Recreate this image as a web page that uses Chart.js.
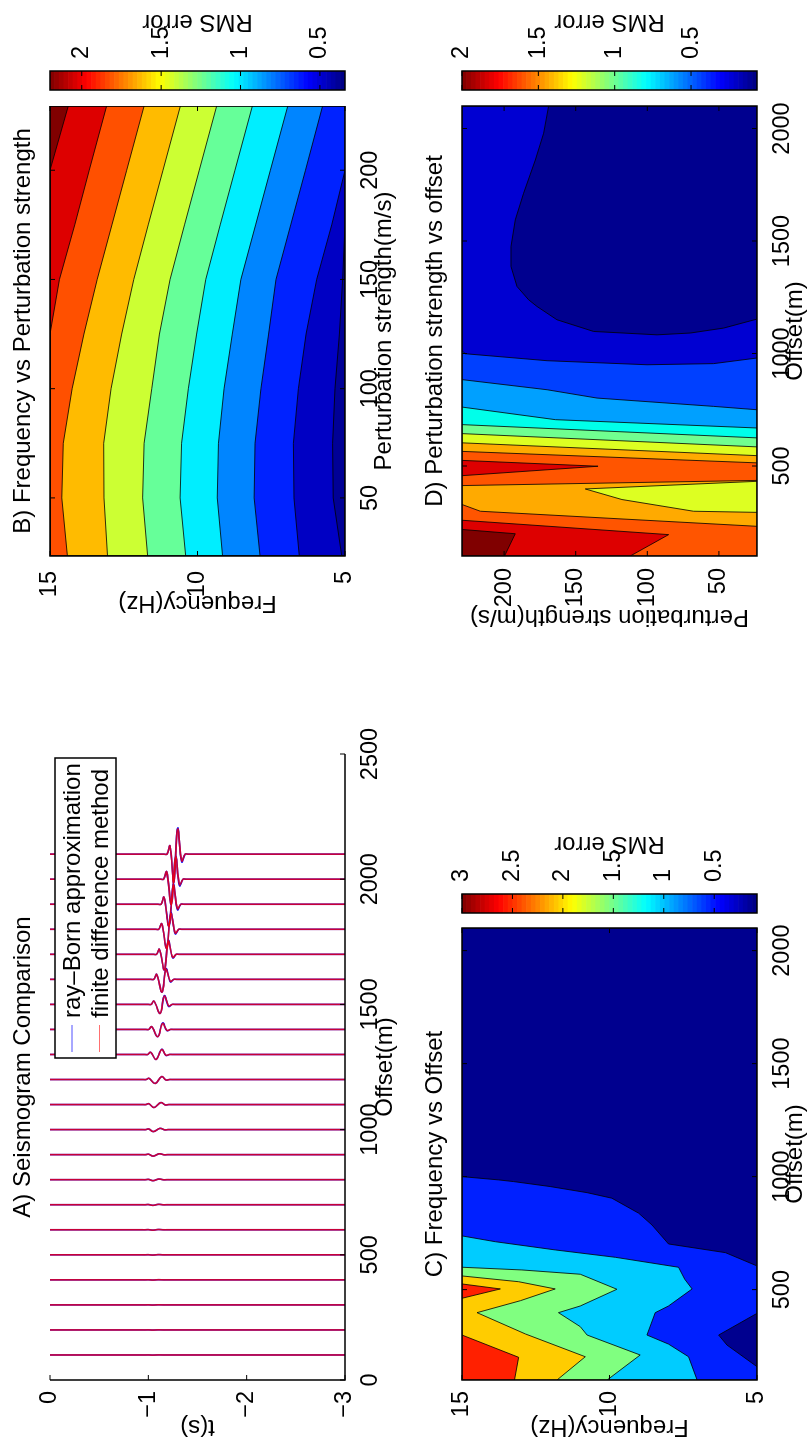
<!DOCTYPE html>
<html>
<head>
<meta charset="utf-8">
<script src="https://cdn.jsdelivr.net/npm/chart.js@4.4.1/dist/chart.umd.min.js"></script>
<style>
  html, body { margin: 0; padding: 0; background: #fff; width: 810px; height: 1445px; overflow: hidden; }
  /* the figure is laid out landscape and turned a quarter turn counter-clockwise */
  #fig { position: absolute; left: 0; top: 0; width: 1445px; height: 810px; background: #fff;
         transform-origin: 0 0; transform: translate(0px, 1445px) rotate(-90deg); }
  #fig canvas { position: absolute; }
</style>
</head>
<body>
<div id="fig"></div>
<script>
// ---------------- A) Seismogram comparison ----------------
const traceOffsets = [100, 200, 300, 400, 500, 600, 700, 800, 900, 1000, 1100,
                      1200, 1300, 1400, 1500, 1600, 1700, 1800, 1900, 2000, 2100];
// wavelet lobes per trace: time (s) and horizontal deflection (m)
const bumpTime   = [-1.000, -1.000, -1.000, -1.000, -1.000, -1.000, -1.000, -1.002, -1.003, -1.004, -1.005,
                    -1.007, -1.024, -1.034, -1.058, -1.085, -1.112, -1.136, -1.159, -1.186, -1.220];
const bumpAmp    = [0.2, 0.2, 0.3, 0.3, 0.4, 0.5, 0.8, 1.2, 1.8, 2.5, 3.5, 5, 9, 11, 13, 20, 20, 22, 28, 30, 33];
const troughTime = [-1.045, -1.045, -1.045, -1.046, -1.046, -1.047, -1.047, -1.048, -1.049, -1.051, -1.058,
                    -1.068, -1.078, -1.095, -1.119, -1.139, -1.163, -1.186, -1.210, -1.234, -1.258];
const troughAmp  = [-0.5, -0.5, -0.6, -0.8, -1, -1.5, -2.5, -4, -6, -8, -12, -16, -20, -29, -36, -51, -62, -75, -88, -100, -112];
const peakTime   = [-1.100, -1.100, -1.100, -1.100, -1.100, -1.100, -1.102, -1.105, -1.110, -1.118, -1.127,
                    -1.136, -1.136, -1.146, -1.163, -1.180, -1.204, -1.230, -1.254, -1.278, -1.298];
const peakAmp    = [0.3, 0.3, 0.4, 0.5, 0.7, 1, 1.5, 2.5, 3.5, 5, 8, 12, 20, 24, 33, 40, 52, 62, 75, 87, 100];
const tailTime   = [-1.150, -1.150, -1.150, -1.150, -1.150, -1.150, -1.152, -1.155, -1.160, -1.166, -1.172,
                    -1.180, -1.180, -1.190, -1.207, -1.224, -1.248, -1.274, -1.296, -1.318, -1.339];
const tailAmp    = [0, 0, 0, 0, 0, 0, -0.2, -0.4, -0.6, -1, -1.5, -2, -3, -4, -6, -8, -12, -15, -18, -22, -27];
// ray-Born lobes that differ from the finite-difference ones
const bornPeakAmp = [0.3, 0.3, 0.4, 0.5, 0.7, 1, 1.5, 2.5, 3.5, 5, 8, 12, 21, 26, 35, 43, 55, 66, 79, 91, 104];
const bornTailAmp = [0, 0, 0, 0, 0, 0, -0.2, -0.4, -0.6, -1, -1.5, -2, -4, -5, -8, -10, -14, -18, -22, -26, -31];
const offsetTicksA = [0, 500, 1000, 1500, 2000, 2500];
const timeTicks = [-3, -2, -1, 0];

// ---------------- shared axis ranges ----------------
const PERT_RANGE = [23.4, 229.4];
const FREQ_RANGE = [5, 15];
const OFFSET_RANGE = [100, 2100];
const pertTicks = [50, 100, 150, 200];
const freqTicks = [5, 10, 15];
const offsetTicks = [500, 1000, 1500, 2000];

// ---------------- B) Frequency vs perturbation strength ----------------
const perturbation = [23.4, 50, 75, 100, 125, 150, 175, 200, 229.4];
// frequency of each contour line at the perturbation samples (highest level first)
const bLevel1  = [15, 15, 15, 15, 15, 15, 15, 15, 14.38];
const bLevel2  = [15, 15, 15, 15, 15, 14.68, 14.16, 13.67, 13.08];
const bLevel3  = [14.41, 14.60, 14.55, 14.25, 13.85, 13.40, 12.90, 12.40, 11.81];
const bLevel4  = [13.05, 13.17, 13.18, 12.93, 12.57, 12.16, 11.67, 11.17, 10.58];
const bLevel5  = [11.69, 11.86, 11.81, 11.55, 11.29, 10.93, 10.44, 9.94, 9.35];
const bLevel6  = [10.40, 10.59, 10.54, 10.31, 10.03, 9.72, 9.23, 8.73, 8.14];
const bLevel7  = [9.15, 9.33, 9.29, 9.10, 8.82, 8.53, 8.03, 7.53, 6.94];
const bLevel8  = [7.88, 8.08, 8.05, 7.85, 7.59, 7.34, 6.84, 6.34, 5.76];
const bLevel9  = [6.55, 6.73, 6.75, 6.58, 6.32, 5.96, 5.45, 5.0, 5.0];
const bLevel10 = [5.11, 5.40, 5.42, 5.34, 5.19, 5.08, 5.0, 5.0, 5.0];
const bCbarRange = [0.342, 2.2];
const bCbarTicks = [0.5, 1, 1.5, 2];

// ---------------- C) Frequency vs offset : region outlines [offset, frequency] ----------------
const cBlue = [[1000, 15], [985.5, 13.76], [978, 13.25], [956, 12.01], [929, 10.76], [904.5, 9.92],
               [838, 9.01], [786, 8.56], [702, 8.0], [663.6, 6.07], [604.8, 5]];
const cNavyPocket = [[395, 5], [299, 6.30], [255, 6.02], [159, 5]];
const cLightBlue = [[737.6, 15], [712, 13.87], [675.6, 11.84], [643, 9.80], [599, 7.66], [546, 7.45],
                    [503, 7.20], [427.6, 8.0], [398, 8.45], [299, 8.73], [259, 8.0], [203, 7.32], [100, 7.03]];
const cGreen = [[599, 15], [587, 12.97], [568, 10.99], [501.6, 9.75], [427.6, 10.99], [398, 11.73],
                [336, 10.99], [299, 10.76], [210.7, 8.96], [100, 10.08]];
const cYellow = [[560.5, 15], [535, 13.08], [503, 11.84], [451, 13.02], [398, 14.49], [303.7, 12.85],
                 [203, 10.82], [100, 11.78]];
const cRedUpper = [[525, 15], [503, 13.70], [461.7, 15]];
const cRedLower = [[299, 15], [200.5, 13.08], [100, 13.22], [100, 15]];
const cCbarRange = [0.076, 3.0];
const cCbarTicks = [0.5, 1, 1.5, 2, 2.5, 3];

// ---------------- D) Perturbation strength vs offset : region outlines [offset, perturbation] ----------------
const dNavyPocket = [[2100, 168.9], [1979, 172.4], [1860, 178.2], [1712, 186.4], [1594, 192.2], [1475, 195.2],
                     [1387, 195.2], [1298, 191.0], [1239, 182.9], [1209, 177.0], [1150, 163.1], [1098, 137.5],
                     [1083, 93.2], [1091, 70.0], [1113, 46.7], [1153, 23.4], [2100, 23.4]];
const dBlue2 = [[1012, 229.4], [999, 227.1], [968, 170.0], [950, 100.2], [955, 53.7], [980, 23.4]];
const dSky = [[884, 229.4], [839, 170.0], [802, 135.1], [765, 53.7], [750, 23.4]];
const dCyan = [[762, 229.4], [706, 164.2], [669, 23.4]];
const dGreen = [[684, 229.4], [625, 23.4]];
const dYellow = [[644, 229.4], [585, 23.4]];
const dOrange = [[603, 229.4], [546, 23.4]];
const dOrangeRed = [[565, 229.4], [514, 23.4]];
const dRedWedge = [[525, 229.4], [499, 134.4], [457, 229.4]];
const dOrangeHole = [[413, 229.4], [436, 23.4], [232, 23.4], [299, 216.6], [329, 229.4]];
const dYellowWedge = [[432, 23.4], [398, 143.3], [351, 117.7], [299, 67.7], [294, 23.4]];
const dRedBottom = [[259, 229.4], [195, 85.1], [100, 111.9], [100, 229.4]];
const dDarkRed = [[218, 229.4], [199, 192.2], [100, 199.7], [100, 229.4]];
const dCbarRange = [0.068, 2.0];
const dCbarTicks = [0.5, 1, 1.5, 2];

// ---------------- styles ----------------
const FONT = "'Liberation Sans', Arial, Helvetica, sans-serif";
const TICK_FONT = { size: 23.5, family: FONT };
const LABEL_FONT = { size: 24, family: FONT, weight: 'normal' };
const bColors = ['#000096', '#0000C4', '#0022FF', '#0085FF', '#00EEFF', '#66FF99',
                 '#CCFF33', '#FFBB00', '#FF5000', '#DD0000', '#800000'];
const cColors = { navy: '#00008F', blue: '#0020FF', light: '#00CCFF', green: '#80FF80', yellow: '#FFCC00', red: '#FF2000' };
const dColors = { navy: '#00008F', blue: '#0000D2', blue2: '#0040FF', sky: '#00A0FF', cyan: '#00FFEA', green: '#70FF90',
                  yellow: '#DDFF22', orange: '#FFAA00', orangeRed: '#FF5500', red: '#DD0000', darkRed: '#800000' };

Chart.defaults.font.family = FONT;
Chart.defaults.color = '#000';

// axes frame with inward ticks, plus the optional colour-bar caption
const framePlugin = {
  id: 'frame',
  afterDraw(chart, args, o) {
    if (!o || !o.enabled) return;
    const { ctx, chartArea: a } = chart;
    const L = 5;
    ctx.save();
    ctx.strokeStyle = '#000';
    ctx.lineWidth = 1.5;
    ctx.beginPath();
    if (o.box) {
      ctx.rect(a.left, a.top, a.right - a.left, a.bottom - a.top);
    } else {
      ctx.moveTo(a.left, a.top); ctx.lineTo(a.left, a.bottom); ctx.lineTo(a.right, a.bottom);
    }
    ctx.stroke();
    ctx.lineWidth = 1;
    ctx.beginPath();
    const xs = chart.scales.x, ys = chart.scales.y;
    if (o.xTicks) for (const t of xs.ticks) {
      const p = xs.getPixelForValue(t.value);
      ctx.moveTo(p, a.bottom); ctx.lineTo(p, a.bottom - L);
      if (o.box) { ctx.moveTo(p, a.top); ctx.lineTo(p, a.top + L); }
    }
    if (o.yTicks) for (const t of ys.ticks) {
      const p = ys.getPixelForValue(t.value);
      ctx.moveTo(a.left, p); ctx.lineTo(a.left + L, p);
      if (o.box) { ctx.moveTo(a.right, p); ctx.lineTo(a.right - L, p); }
    }
    ctx.stroke();
    if (o.label) {
      ctx.translate(o.label.x, (a.top + a.bottom) / 2);
      ctx.rotate(-Math.PI / 2);
      ctx.font = `24px ${FONT}`;
      ctx.fillStyle = '#000';
      ctx.textAlign = 'center';
      ctx.textBaseline = 'middle';
      ctx.fillText(o.label.text, 0, 0);
    }
    ctx.restore();
  }
};

// boxed legend inside the seismogram axes
const seisLegend = {
  id: 'seisLegend',
  afterDraw(chart, args, o) {
    if (!o || !o.items) return;
    const ctx = chart.ctx;
    ctx.save();
    ctx.fillStyle = '#fff';
    ctx.fillRect(o.x, o.y, o.w, o.h);
    ctx.strokeStyle = '#000';
    ctx.lineWidth = 1.5;
    ctx.strokeRect(o.x, o.y, o.w, o.h);
    ctx.font = `24px ${FONT}`;
    ctx.textAlign = 'left';
    ctx.textBaseline = 'middle';
    o.items.forEach((it, i) => {
      const y = o.y + o.rows[i];
      ctx.strokeStyle = it.color;
      ctx.lineWidth = 1;
      ctx.beginPath();
      ctx.moveTo(o.x + 6, y - 1.5); ctx.lineTo(o.x + 33, y - 1.5);
      ctx.stroke();
      ctx.fillStyle = '#000';
      ctx.fillText(it.text, o.x + 40, y);
    });
    ctx.restore();
  }
};
Chart.register(framePlugin, seisLegend);

function makeCanvas(left, top, w, h) {
  const c = document.createElement('canvas');
  c.width = w; c.height = h;
  c.style.left = left + 'px'; c.style.top = top + 'px';
  c.style.width = w + 'px'; c.style.height = h + 'px';
  document.getElementById('fig').appendChild(c);
  return c;
}
const fixedTicks = vals => scale => { scale.ticks = vals.map(v => ({ value: v })); };
const minusFmt = v => (v < 0 ? '\u2212' + Math.abs(v) : String(v));

function axis(range, ticks, title, fit, tickPad, titlePad, extra) {
  return Object.assign({
    type: 'linear', min: range[0], max: range[1],
    afterBuildTicks: fixedTicks(ticks),
    afterFit: fit,
    grid: { display: false }, border: { display: false },
    ticks: { font: TICK_FONT, padding: tickPad, autoSkip: false, maxRotation: 0, minRotation: 0, callback: minusFmt },
    title: { display: true, text: title, font: LABEL_FONT, padding: titlePad }
  }, extra || {});
}

function baseOptions(titleText, titlePad, pad) {
  return {
    responsive: false, animation: false, devicePixelRatio: 1,
    layout: { padding: pad },
    plugins: {
      legend: { display: false }, tooltip: { enabled: false },
      title: { display: true, text: titleText, font: LABEL_FONT, color: '#000', padding: titlePad, fullSize: false }
    }
  };
}

// ---------------- A ----------------
function tracePoints(i, peaks, tails) {
  const o = traceOffsets[i];
  return [
    { x: o, y: 0 },
    { x: o, y: bumpTime[i] + 0.06 },
    { x: o, y: bumpTime[i] + 0.03 },
    { x: o + bumpAmp[i], y: bumpTime[i] },
    { x: o + troughAmp[i], y: troughTime[i] },
    { x: o + peaks[i], y: peakTime[i] },
    { x: o + tails[i], y: tailTime[i] },
    { x: o, y: tailTime[i] - 0.035 },
    { x: o, y: tailTime[i] - 0.065 },
    { x: o, y: -3 }
  ];
}
const traceSets = [];
traceOffsets.forEach((o, i) => {
  traceSets.push({ label: 'ray\u2013Born approximation', data: tracePoints(i, bornPeakAmp, bornTailAmp), showLine: true,
                   borderColor: '#0000FF', borderWidth: 1.6, pointRadius: 0, tension: 0.4, order: 1 });
  traceSets.push({ label: 'finite difference method', data: tracePoints(i, peakAmp, tailAmp), showLine: true,
                   borderColor: 'rgba(255,0,0,0.78)', borderWidth: 1.6, pointRadius: 0, tension: 0.4, order: 0 });
});
const optA = baseOptions('A) Seismogram Comparison', { top: 8.6, bottom: 12.6 }, { left: 0, top: 0, right: 39, bottom: 0 });
optA.plugins.frame = { enabled: true, box: false, xTicks: true, yTicks: true };
optA.plugins.seisLegend = {
  x: 387, y: 55, w: 300, h: 61, rows: [18.5, 46],
  items: [{ text: 'ray\u2013Born approximation', color: '#5050FF' }, { text: 'finite difference method', color: '#FF7070' }]
};
optA.scales = {
  x: axis([0, 2500], offsetTicksA, 'Offset(m)', s => { s.height = 75; }, 3.4, { top: 0, bottom: 20.6 }),
  y: axis([-3, 0], timeTicks, 't(s)', s => { s.width = 65; }, 3, { top: 4.1, bottom: 0 })
};
new Chart(makeCanvas(0, 0, 730, 420), { type: 'scatter', data: { datasets: traceSets }, options: optA });

// ---------------- filled contour helpers ----------------
function ring(pts) {
  const d = pts.map(([x, y]) => ({ x, y }));
  d.push({ x: d[0].x, y: d[0].y });
  return d;
}
function polySets(polys) {
  return polys.map((p, k) => ({
    data: ring(p.pts), showLine: true, fill: 'shape', backgroundColor: p.color,
    borderColor: '#000', borderWidth: 0.8, pointRadius: 0, pointHoverRadius: 0, tension: 0,
    order: polys.length - k
  }));
}
function contourChart(canvas, polys, opts) {
  opts.plugins.frame = { enabled: true, box: true, xTicks: true, yTicks: true };
  return new Chart(canvas, { type: 'scatter', data: { datasets: polySets(polys) }, options: opts });
}
const boxOf = (xr, yr) => [[xr[0], yr[0]], [xr[1], yr[0]], [xr[1], yr[1]], [xr[0], yr[1]]];

// ---------------- B ----------------
const bLevels = [bLevel10, bLevel9, bLevel8, bLevel7, bLevel6, bLevel5, bLevel4, bLevel3, bLevel2, bLevel1];
const bPolys = [{ pts: boxOf(PERT_RANGE, FREQ_RANGE), color: bColors[0] }].concat(
  bLevels.map((lv, k) => ({
    pts: perturbation.map((p, i) => [p, lv[i]]).concat([[PERT_RANGE[1], FREQ_RANGE[1]], [PERT_RANGE[0], FREQ_RANGE[1]]]),
    color: bColors[k + 1]
  })));
const optB = baseOptions('B) Frequency vs Perturbation strength', { top: 8.6, bottom: 12.6 }, { left: 0, top: 0, right: 0, bottom: 0 });
optB.scales = {
  x: axis(PERT_RANGE, pertTicks, 'Perturbation strength(m/s)', s => { s.height = 75; }, 3.4, { top: 0, bottom: 21.6 }),
  y: axis(FREQ_RANGE, freqTicks, 'Frequency(Hz)', s => { s.width = 79; }, 7, { top: 17.6, bottom: 0 })
};
contourChart(makeCanvas(810, 0, 529, 420), bPolys, optB);

// ---------------- C ----------------
const lowOffsetSide = pts => pts.concat([[OFFSET_RANGE[0], FREQ_RANGE[1]]]);
const cPolys = [
  { pts: boxOf(OFFSET_RANGE, FREQ_RANGE), color: cColors.navy },
  { pts: cBlue.concat([[OFFSET_RANGE[0], FREQ_RANGE[0]], [OFFSET_RANGE[0], FREQ_RANGE[1]]]), color: cColors.blue },
  { pts: cNavyPocket, color: cColors.navy },
  { pts: lowOffsetSide(cLightBlue), color: cColors.light },
  { pts: lowOffsetSide(cGreen), color: cColors.green },
  { pts: lowOffsetSide(cYellow), color: cColors.yellow },
  { pts: cRedUpper, color: cColors.red },
  { pts: cRedLower, color: cColors.red }
];
const optC = baseOptions('C) Frequency vs Offset', { top: 15.6, bottom: 12.6 }, { left: 0, top: 0, right: 15, bottom: 0 });
optC.scales = {
  x: axis(OFFSET_RANGE, offsetTicks, 'Offset(m)', s => { s.height = 53; }, 3, { top: 0, bottom: 0 }),
  y: axis(FREQ_RANGE, freqTicks, 'Frequency(Hz)', s => { s.width = 65; }, 3, { top: 4.1, bottom: 0 })
};
contourChart(makeCanvas(0, 405, 532, 405), cPolys, optC);

// ---------------- D ----------------
const dBand = pts => pts.concat([[OFFSET_RANGE[0], PERT_RANGE[0]], [OFFSET_RANGE[0], PERT_RANGE[1]]]);
const dPolys = [
  { pts: boxOf(OFFSET_RANGE, PERT_RANGE), color: dColors.blue },
  { pts: dNavyPocket, color: dColors.navy },
  { pts: dBand(dBlue2), color: dColors.blue2 },
  { pts: dBand(dSky), color: dColors.sky },
  { pts: dBand(dCyan), color: dColors.cyan },
  { pts: dBand(dGreen), color: dColors.green },
  { pts: dBand(dYellow), color: dColors.yellow },
  { pts: dBand(dOrange), color: dColors.orange },
  { pts: dBand(dOrangeRed), color: dColors.orangeRed },
  { pts: dRedWedge, color: dColors.red },
  { pts: dOrangeHole, color: dColors.orange },
  { pts: dYellowWedge, color: dColors.yellow },
  { pts: dRedBottom, color: dColors.red },
  { pts: dDarkRed, color: dColors.darkRed }
];
const optD = baseOptions('D) Perturbation strength vs offset', { top: 15.6, bottom: 12.6 }, { left: 0, top: 0, right: 16, bottom: 0 });
optD.scales = {
  x: axis(OFFSET_RANGE, offsetTicks, 'Offset(m)', s => { s.height = 53; }, 3, { top: 0, bottom: 0 }),
  y: axis(PERT_RANGE, pertTicks, 'Perturbation strength(m/s)', s => { s.width = 79; }, 4, { top: 3.6, bottom: 0 })
};
contourChart(makeCanvas(810, 405, 545, 405), dPolys, optD);

// ---------------- colour bars (jet colormap) ----------------
function jet(i, n) {
  const x = (i + 0.5) / n;
  const c = v => Math.round(255 * Math.max(0, Math.min(1, 1.5 - Math.abs(4 * x - v))));
  return `rgb(${c(3)},${c(2)},${c(1)})`;
}
function colorbar(canvas, range, ticks, pad, axisWidth, labelX) {
  const n = 64, step = (range[1] - range[0]) / n;
  const sets = [];
  for (let i = 0; i < n; i++) {
    sets.push({ data: [[range[0] + i * step, range[0] + (i + 1) * step]], backgroundColor: jet(i, n),
                borderWidth: 0, barPercentage: 1, categoryPercentage: 1, grouped: false });
  }
  return new Chart(canvas, {
    type: 'bar',
    data: { labels: ['RMS error'], datasets: sets },
    options: {
      responsive: false, animation: false, devicePixelRatio: 1,
      layout: { padding: pad },
      plugins: { legend: { display: false }, tooltip: { enabled: false },
                 frame: { enabled: true, box: true, xTicks: false, yTicks: true, label: { text: 'RMS error', x: labelX } } },
      scales: {
        x: { display: false },
        y: { type: 'linear', position: 'right', min: range[0], max: range[1],
             afterBuildTicks: fixedTicks(ticks), afterFit: s => { s.width = axisWidth; },
             grid: { display: false }, border: { display: false },
             ticks: { font: TICK_FONT, padding: 4, autoSkip: false, callback: v => String(v) } }
      }
    }
  });
}
colorbar(makeCanvas(1340, 0, 105, 420), bCbarRange, bCbarTicks, { left: 15, top: 50, right: 0, bottom: 75 }, 71, 83.5);
colorbar(makeCanvas(517, 405, 110, 405), cCbarRange, cCbarTicks, { left: 15, top: 57, right: 0, bottom: 53 }, 76, 84);
colorbar(makeCanvas(1340, 405, 105, 405), dCbarRange, dCbarTicks, { left: 15, top: 57, right: 0, bottom: 53 }, 71, 83.5);
</script>
</body>
</html>
